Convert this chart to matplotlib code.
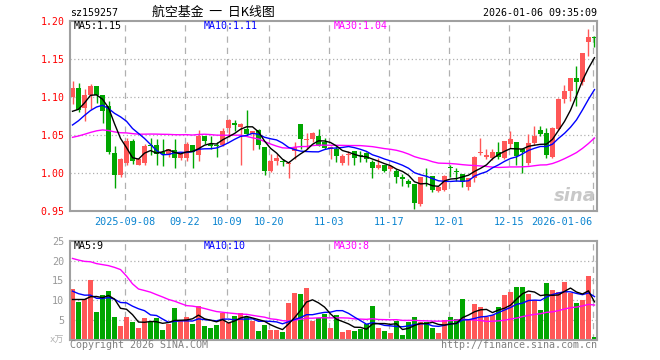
import numpy as np
import pandas as pd
import matplotlib.pyplot as plt

plt.rcParams['font.family'] = ['DejaVu Sans Mono', 'Noto Sans CJK SC']

# ==========================
# Daily K-line data, 2025-08-26 .. 2026-01-06
# ==========================
opens = [1.100, 1.112, 1.085, 1.102, 1.114, 1.103, 1.088, 1.026, 0.997, 1.013,
         1.042, 1.011, 1.013, 1.037, 1.037, 1.027, 1.024, 1.030, 1.019, 1.019,
         1.037, 1.024, 1.049, 1.038, 1.037, 1.037, 1.059, 1.065, 1.061, 1.058,
         1.051, 1.056, 1.034, 1.003, 1.016, 1.016, 1.012, 1.029, 1.064, 1.043,
         1.045, 1.048, 1.041, 1.031, 1.032, 1.013, 1.023, 1.029, 1.024, 1.026,
         1.015, 1.007, 1.011, 1.005, 1.003, 0.995, 0.990, 0.986, 0.959, 0.999,
         0.996, 0.976, 0.977, 1.008, 1.002, 0.998, 0.981, 0.994, 1.026, 1.021,
         1.019, 1.028, 1.019, 1.038, 1.041, 1.031, 1.013, 1.039, 1.056, 1.053,
         1.021, 1.058, 1.097, 1.108, 1.125, 1.119, 1.172, 1.178]
highs = [1.121, 1.118, 1.110, 1.117, 1.114, 1.103, 1.094, 1.035, 1.019, 1.046,
         1.045, 1.020, 1.038, 1.046, 1.045, 1.044, 1.032, 1.044, 1.026, 1.040,
         1.037, 1.056, 1.049, 1.048, 1.041, 1.059, 1.071, 1.070, 1.065, 1.083,
         1.055, 1.058, 1.034, 1.025, 1.025, 1.018, 1.016, 1.041, 1.064, 1.053,
         1.054, 1.058, 1.046, 1.036, 1.036, 1.025, 1.029, 1.029, 1.029, 1.027,
         1.017, 1.019, 1.011, 1.010, 1.005, 0.998, 0.992, 0.986, 0.995, 1.006,
         0.996, 0.982, 0.997, 1.010, 1.007, 0.998, 0.993, 1.022, 1.046, 1.032,
         1.031, 1.040, 1.042, 1.055, 1.041, 1.033, 1.051, 1.062, 1.062, 1.059,
         1.061, 1.098, 1.116, 1.125, 1.141, 1.158, 1.189, 1.180]
lows = [1.090, 1.080, 1.068, 1.084, 1.092, 1.065, 1.025, 0.980, 0.995, 1.011,
        1.012, 1.010, 1.010, 1.024, 1.010, 1.009, 1.021, 1.007, 1.017, 1.016,
        1.007, 1.016, 1.038, 1.031, 1.021, 1.035, 1.047, 1.055, 1.011, 1.048,
        1.030, 1.031, 0.997, 1.001, 1.010, 1.009, 0.994, 1.018, 1.031, 1.031,
        1.040, 1.036, 1.031, 1.018, 1.014, 1.010, 1.010, 1.010, 1.014, 1.014,
        0.994, 1.005, 1.001, 1.003, 0.987, 0.983, 0.981, 0.952, 0.957, 0.983,
        0.975, 0.975, 0.976, 0.995, 0.989, 0.981, 0.978, 0.988, 1.024, 1.018,
        1.017, 1.018, 1.018, 1.033, 1.010, 1.000, 1.010, 1.037, 1.049, 1.019,
        1.020, 1.056, 1.092, 1.094, 1.088, 1.116, 1.154, 1.166]
closes = [1.111, 1.083, 1.102, 1.114, 1.103, 1.082, 1.027, 0.997, 1.018, 1.042,
          1.016, 1.018, 1.036, 1.035, 1.025, 1.025, 1.031, 1.019, 1.025, 1.038,
          1.028, 1.049, 1.042, 1.036, 1.035, 1.055, 1.070, 1.063, 1.064, 1.051,
          1.055, 1.037, 1.003, 1.016, 1.020, 1.014, 1.013, 1.034, 1.044, 1.045,
          1.052, 1.036, 1.033, 1.034, 1.022, 1.022, 1.025, 1.019, 1.022, 1.018,
          1.007, 1.011, 1.003, 1.009, 0.995, 0.992, 0.986, 0.960, 0.995, 0.998,
          0.977, 0.982, 0.996, 1.007, 1.001, 0.988, 0.993, 1.021, 1.027, 1.024,
          1.028, 1.021, 1.042, 1.045, 1.022, 1.027, 1.039, 1.049, 1.051, 1.023,
          1.059, 1.097, 1.108, 1.125, 1.119, 1.158, 1.178, 1.177]
# volume, in 万
volumes = [12.8, 9.6, 10.3, 15.1, 7.0, 11.3, 12.3, 5.8, 3.5, 5.8,
           4.5, 3.0, 5.5, 4.5, 5.5, 2.5, 4.0, 8.1, 4.8, 5.8,
           4.0, 8.6, 3.5, 3.0, 3.8, 6.8, 4.3, 6.0, 6.8, 5.8,
           4.8, 2.3, 3.8, 2.5, 2.5, 2.0, 9.3, 11.8, 11.6, 13.1,
           4.8, 5.5, 6.5, 3.0, 6.3, 2.0, 2.5, 2.3, 2.8, 4.0,
           8.6, 3.0, 2.3, 1.8, 4.8, 1.3, 4.5, 5.8, 4.5, 4.5,
           3.0, 1.8, 5.0, 5.8, 5.3, 10.3, 5.0, 9.1, 8.3, 5.8,
           6.3, 8.3, 11.3, 12.1, 13.3, 13.3, 11.6, 10.1, 7.6, 14.3,
           12.6, 12.1, 14.6, 11.8, 9.3, 10.1, 16.1, 0.75]

# the 29 sessions before the first visible day (only needed for the MA lines),
# estimated from where the MA lines start on the left edge
pre_closes = [1.030, 1.035, 1.040, 1.042, 1.045, 1.052, 1.050, 1.052,
              1.048, 1.044, 1.040, 1.036, 1.030, 1.028, 1.032, 1.035,
              1.030, 1.028, 1.034, 1.043, 1.027, 1.032, 1.050, 1.057,
              1.059, 1.070, 1.060, 1.064, 1.100]
pre_volumes = [22, 20, 18, 21, 19, 20, 19, 20, 55, 63, 42, 17, 17,
               24, 20, 23, 21, 22, 22, 8, 16, 14, 15, 15, 12,
               9.6, 10.3, 11.6, 6.7]

date_idx = [9, 19, 26, 33, 43, 53, 63, 73, 87]
date_labels = ['2025-09-08', '09-22', '10-09', '10-20', '11-03',
               '11-17', '12-01', '12-15', '2026-01-06']

price_ticks = [0.95, 1.00, 1.05, 1.10, 1.15, 1.20]
vol_ticks = [5, 10, 15, 20, 25]

# ==========================
# Styling
# ==========================
UP = '#FF5757'
DOWN = '#00A600'
MA_COLORS = {5: 'black', 10: '#0000FF', 30: '#FF00FF'}
GRID = '#B0B0B0'
FRAME = '#A0A0A0'
W, H = 660, 360

o = np.array(opens)
h = np.array(highs)
l = np.array(lows)
c = np.array(closes)
v = np.array(volumes)
n = len(c)
x = np.arange(n)
colors = np.where(c > o, UP, DOWN)

all_close = pd.Series(pre_closes + closes)
all_vol = pd.Series(pre_volumes + volumes)
k = len(pre_closes)
price_ma = {p: all_close.rolling(p).mean().values[k:] for p in (5, 10, 30)}
vol_ma = {p: all_vol.rolling(p).mean().values[k:] for p in (5, 10, 30)}

fig = plt.figure(figsize=(W / 100, H / 100), dpi=100)


def px_axes(left, top, right, bottom):
    return fig.add_axes([left / W, 1 - bottom / H, (right - left) / W, (bottom - top) / H])


ax = px_axes(70, 20.7, 597, 211)
axv = px_axes(70, 240.7, 597, 340)

for a in (ax, axv):
    a.set_xlim(-0.42, 87.42)
    for s in a.spines.values():
        s.set_color(FRAME)
        s.set_linewidth(1.5)
    for xi in date_idx:
        a.axvline(xi - 0.3, color=GRID, lw=0.9, ls=(0, (5, 4)), zorder=0)
    a.tick_params(axis='both', length=0)

# ==========================
# Price panel
# ==========================
ax.vlines(x, l, h, color=colors, lw=1, zorder=2)
ax.bar(x, np.maximum(np.abs(c - o), 0.0008), bottom=np.minimum(o, c),
       width=0.8, color=colors, linewidth=0, zorder=2)
for p in (30, 10, 5):
    ax.plot(x, price_ma[p], color=MA_COLORS[p], lw=1, zorder=3)

ax.set_ylim(0.95, 1.20)
ax.set_yticks(price_ticks)
ax.set_yticklabels([f'{t:.2f}' for t in price_ticks])
ax.tick_params(axis='y', labelcolor='red', labelsize=7.1, pad=4)
for t in price_ticks[1:-1]:
    ax.axhline(t, color=GRID, lw=0.9, ls=(0, (1, 2)), zorder=0)

ax.set_xticks([xi - 0.3 for xi in date_idx])
ax.set_xticklabels(date_labels)
ax.tick_params(axis='x', labelcolor='#0A84D0', labelsize=7.3, pad=4)
ax.get_xticklabels()[-1].set_ha('right')

ax.text(0.997, 0.03, 'sina', transform=ax.transAxes, ha='right', va='bottom',
        fontsize=13, color='#C8C8C8', style='italic', fontweight='bold',
        family='DejaVu Sans', zorder=1)

# ==========================
# Volume panel
# ==========================
axv.bar(x, v, width=0.8, color=colors, linewidth=0, zorder=2)
for p in (30, 10, 5):
    axv.plot(x, vol_ma[p], color=MA_COLORS[p], lw=1, zorder=3)

axv.set_ylim(0, 25)
axv.set_yticks(vol_ticks)
axv.set_yticklabels([str(t) for t in vol_ticks])
axv.tick_params(axis='y', labelcolor='#999999', labelsize=7.3, pad=4)
axv.set_xticks([])
for t in vol_ticks[:-1]:
    axv.axhline(t, color=GRID, lw=0.9, ls=(0, (1, 2)), zorder=0)

# ==========================
# Texts
# ==========================
def ftext(px, py, s, **kw):
    kw.setdefault('va', 'center')
    kw.setdefault('fontsize', 7.2)
    fig.text(px / W, 1 - py / H, s, **kw)


ftext(70, 12.5, 'sz159257')
ftext(213, 12.5, '航空基金  一  日K线图', ha='center', fontsize=9.3,
      family=['Noto Sans CJK SC', 'DejaVu Sans'])
ftext(597, 12.5, '2026-01-06 09:35:09', ha='right')

ftext(74, 26, 'MA5:1.15', color='black')
ftext(204, 26, 'MA10:1.11', color='#0000FF')
ftext(334, 26, 'MA30:1.04', color='#FF00FF')
ftext(74, 246, 'MA5:9', color='black')
ftext(204, 246, 'MA10:10', color='#0000FF')
ftext(334, 246, 'MA30:8', color='#FF00FF')

ftext(64, 340.5, 'x万', ha='right', color='#B0B0B0', fontsize=6.5)
ftext(70, 345.5, 'Copyright 2026 SINA.COM', color='#808080')
ftext(597, 345.5, 'http://finance.sina.com.cn', ha='right', color='#808080')

fig.savefig('out.png', dpi=100, facecolor='white')
